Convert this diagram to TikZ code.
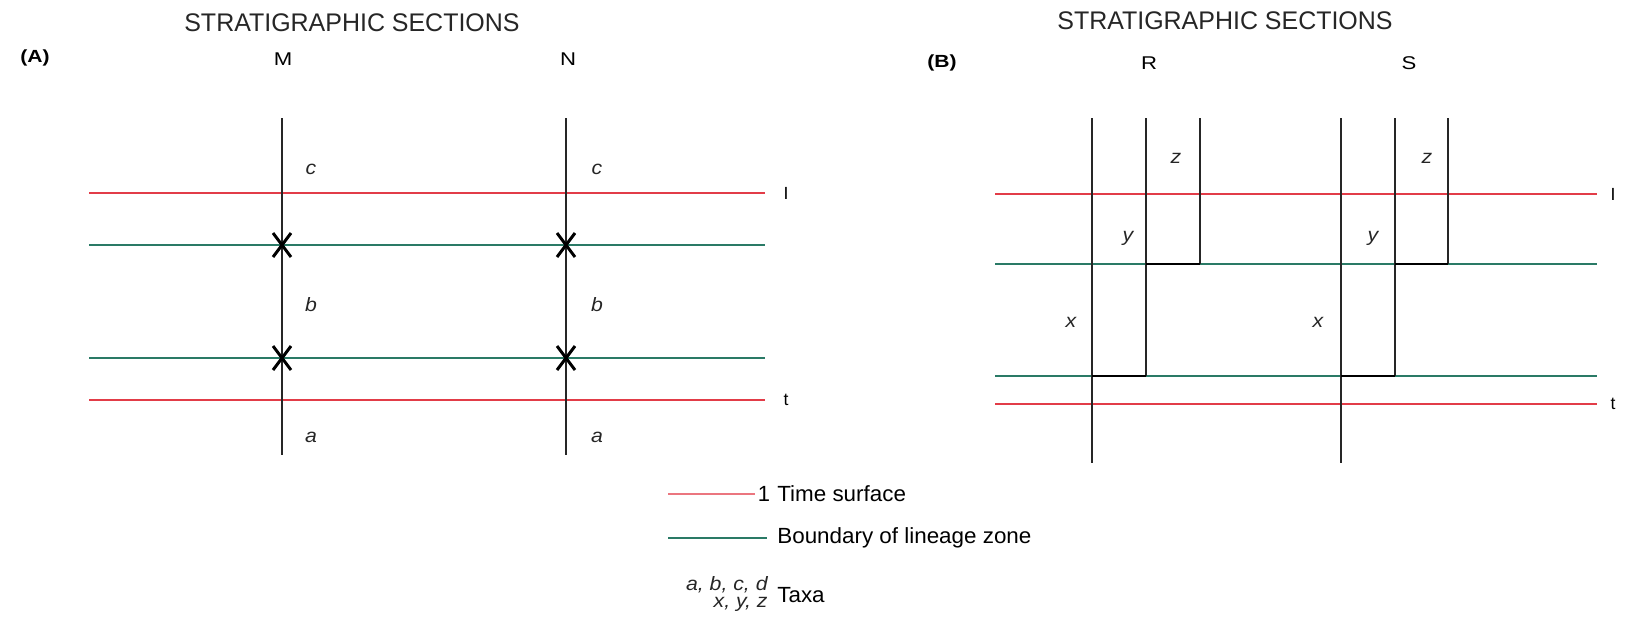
\documentclass[tikz,border=0pt]{standalone}
\usepackage{fontspec}
\setmainfont{Liberation Sans}
\definecolor{tred}{RGB}{226,60,72}
\definecolor{tgreen}{RGB}{42,122,102}
\begin{document}
\begin{tikzpicture}[x=0.02cm,y=-0.02cm,
  titlelabel/.style={font=\fontsize{14.5}{17}\selectfont, xscale=0.98, inner sep=0, text=black!85, anchor=west},
  panellabel/.style={font=\fontsize{10}{12}\selectfont\bfseries, xscale=1.2, inner sep=0},
  seclabel/.style={font=\fontsize{10.5}{12}\selectfont, xscale=1.2, inner sep=0},
  taxon/.style={font=\fontsize{11}{13}\selectfont\itshape, xscale=1.1, inner sep=0, text=black!85},
  tlabel/.style={font=\fontsize{10}{12}\selectfont, inner sep=0},
  legtext/.style={font=\fontsize{12.5}{15}\selectfont, xscale=1.02, inner sep=0, anchor=west},
  section/.style={draw=black!85, line width=1.1pt},
  timeline/.style={draw=tred, line width=1.5pt},
  zoneline/.style={draw=tgreen, line width=1.1pt},
  bar/.style={draw=black, line width=1.6pt},
  xmark/.style={draw=black, line width=1.7pt}
]
\useasboundingbox (0,0) rectangle (1625,623);

% ---------------- Panel A ----------------
\node[titlelabel] (titA) at (184,23) {STRATIGRAPHIC SECTIONS};
\node[panellabel] (labA) at (35,58) {(A)};
\node[seclabel] (M) at (283,59) {M};
\node[seclabel] (N) at (568,59) {N};

\coordinate (tA1) at (89,193);  \coordinate (tA2) at (765,193);
\coordinate (gA1) at (89,245);  \coordinate (gA2) at (765,245);
\coordinate (gA3) at (89,358);  \coordinate (gA4) at (765,358);
\coordinate (tA3) at (89,400);  \coordinate (tA4) at (765,400);
\draw[timeline] (tA1) -- (tA2);
\draw[zoneline] (gA1) -- (gA2);
\draw[zoneline] (gA3) -- (gA4);
\draw[timeline] (tA3) -- (tA4);
\node[tlabel] (lA1) at (786,193) {I};
\node[tlabel] (lA2) at (786,400) {t};

\coordinate (Mtop) at (282,118); \coordinate (Mbot) at (282,455);
\coordinate (Ntop) at (566,118); \coordinate (Nbot) at (566,455);
\draw[section] (Mtop) -- (Mbot);
\draw[section] (Ntop) -- (Nbot);

\foreach \cx/\cy/\nm in {282/245/xa, 566/245/xb, 282/358/xc, 566/358/xd}{
  \coordinate (\nm) at (\cx,\cy);
  \draw[xmark] ([shift={(-9,-12)}]\nm) -- ([shift={(9,12)}]\nm);
  \draw[xmark] ([shift={(-9,12)}]\nm) -- ([shift={(9,-12)}]\nm);
}

\node[taxon] (cM) at (311,169) {c};
\node[taxon] (cN) at (597,169) {c};
\node[taxon] (bM) at (311,305) {b};
\node[taxon] (bN) at (597,305) {b};
\node[taxon] (aM) at (311,437) {a};
\node[taxon] (aN) at (597,437) {a};

% ---------------- Panel B ----------------
\node[titlelabel] (titB) at (1057,21) {STRATIGRAPHIC SECTIONS};
\node[panellabel] (labB) at (942,63) {(B)};
\node[seclabel] (R) at (1149,63) {R};
\node[seclabel] (S) at (1409,63) {S};

\coordinate (tB1) at (995,194);  \coordinate (tB2) at (1597,194);
\coordinate (gB1) at (995,264);  \coordinate (gB2) at (1597,264);
\coordinate (gB3) at (995,376);  \coordinate (gB4) at (1597,376);
\coordinate (tB3) at (995,404);  \coordinate (tB4) at (1597,404);
\draw[timeline] (tB1) -- (tB2);
\draw[zoneline] (gB1) -- (gB2);
\draw[zoneline] (gB3) -- (gB4);
\draw[timeline] (tB3) -- (tB4);
\node[tlabel] (lB1) at (1613,194) {I};
\node[tlabel] (lB2) at (1613,404) {t};

% section R
\coordinate (R1t) at (1092,118); \coordinate (R1b) at (1092,463);
\coordinate (R2t) at (1146,118); \coordinate (R2b) at (1146,376);
\coordinate (R3t) at (1200,118); \coordinate (R3b) at (1200,264);
\coordinate (R1m) at (1092,376); \coordinate (R2m) at (1146,264);
\draw[section] (R1t) -- (R1b);
\draw[section] (R2t) -- (R2b);
\draw[section] (R3t) -- (R3b);
\draw[bar] (R1m) -- (R2b);
\draw[bar] (R2m) -- (R3b);

% section S
\coordinate (S1t) at (1341,118); \coordinate (S1b) at (1341,463);
\coordinate (S2t) at (1395,118); \coordinate (S2b) at (1395,376);
\coordinate (S3t) at (1448,118); \coordinate (S3b) at (1448,264);
\coordinate (S1m) at (1341,376); \coordinate (S2m) at (1395,264);
\draw[section] (S1t) -- (S1b);
\draw[section] (S2t) -- (S2b);
\draw[section] (S3t) -- (S3b);
\draw[bar] (S1m) -- (S2b);
\draw[bar] (S2m) -- (S3b);

\node[taxon] (zR) at (1176,158) {z};
\node[taxon] (zS) at (1427,158) {z};
\node[taxon] (yR) at (1128,238) {y};
\node[taxon] (yS) at (1373,238) {y};
\node[taxon] (xR) at (1071,322) {x};
\node[taxon] (xS) at (1318,322) {x};

% ---------------- Legend ----------------
\coordinate (legR1) at (668,494); \coordinate (legR2) at (755,494);
\draw[draw=tred!70, line width=1.5pt] (legR1) -- (legR2);
\node[tlabel, font=\fontsize{12.5}{15}\selectfont] (leg1) at (764,494) {1};
\node[legtext] (legT) at (777,494) {Time surface};
\coordinate (legG1) at (668,538); \coordinate (legG2) at (767,538);
\draw[zoneline] (legG1) -- (legG2);
\node[legtext] (legB) at (777,538) {Boundary of lineage zone};
\node[taxon, anchor=east] (legabc) at (768,585) {a, b, c, d};
\node[taxon, anchor=east] (legxyz) at (768,604) {x, y, z};
\node[legtext] (legX) at (777,595) {Taxa};
\end{tikzpicture}
\end{document}
